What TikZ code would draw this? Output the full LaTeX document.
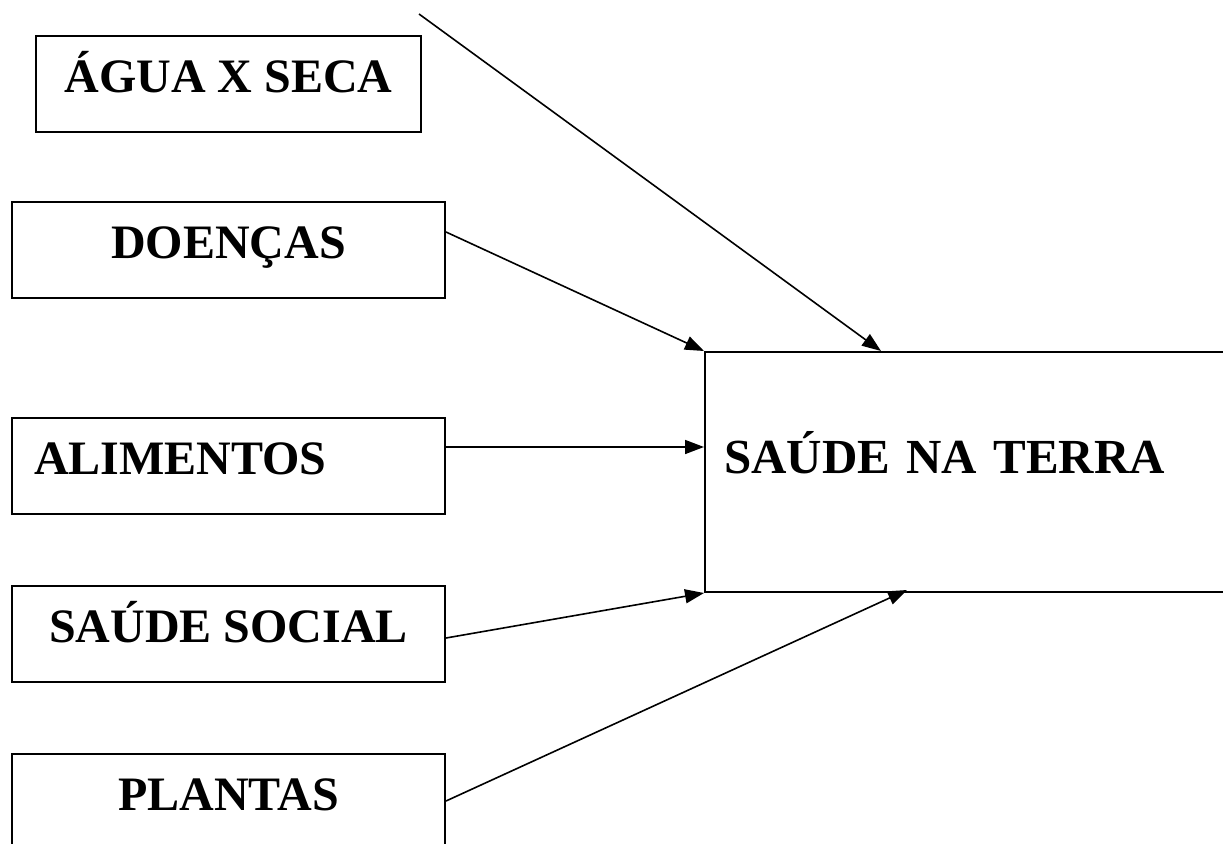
\documentclass[tikz,border=0pt]{standalone}
\usepackage{fontspec}
\setmainfont{Liberation Serif}
\usetikzlibrary{arrows.meta,calc}
\begin{document}
\begin{tikzpicture}[x=1pt,y=-1pt,
  box/.style={draw=black,line width=2pt,anchor=north west,minimum height=96pt,
    inner sep=0pt,text height=36pt,text depth=19pt,font=\fontsize{48}{52}\selectfont\bfseries},
  conn/.style={line width=1.6pt,-{Triangle[length=19pt,width=14pt]}}]
\clip (0,0) rectangle (1223,843);
\fill[white] (0,0) rectangle (1223,843);
\node[box,minimum width=385pt] (agua) at (35,35) {ÁGUA X SECA};
\node[box,minimum width=433pt] (doen) at (11,201) {DOENÇAS};
\node[box,text width=389pt,align=left,inner xsep=22pt,minimum width=433pt] (alim) at (11,417) {ALIMENTOS};
\node[box,minimum width=433pt] (social) at (11,585) {SAÚDE SOCIAL};
\node[box,minimum width=433pt] (plant) at (11,753) {PLANTAS};
\node[draw=black,line width=2pt,anchor=north west,minimum height=240pt,
  text width=560pt,inner xsep=19pt,inner ysep=0pt,align=left,
  text height=36pt,text depth=34pt,font=\fontsize{49}{53}\selectfont\bfseries] (main) at (704,351) {SAÚDE NA TERRA};
\coordinate (topend) at (419,14);
\draw[conn] (topend) -- ($(main.north west)+(177,0)$);
\draw[conn] ($(doen.north east)+(0,31)$) -- (main.north west);
\draw[conn] ($(alim.north east)+(0,30)$) -- ($(main.north west)+(0,96)$);
\draw[conn] ($(social.north east)+(0,53)$) -- (main.south west);
\draw[conn] ($(plant.north east)+(0,48)$) -- ($(main.south west)+(203,-3)$);
\end{tikzpicture}
\end{document}
